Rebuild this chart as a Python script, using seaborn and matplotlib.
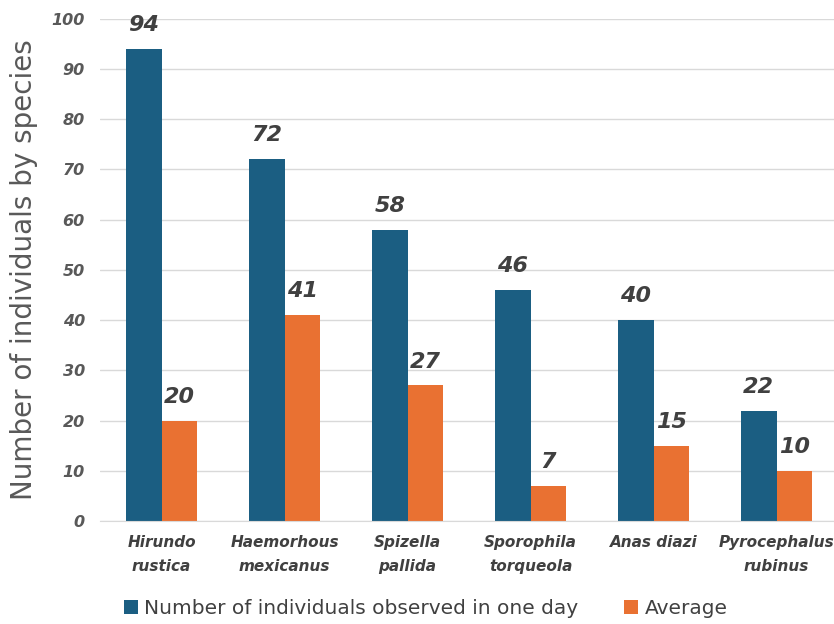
import matplotlib
matplotlib.use("Agg")
import matplotlib.pyplot as plt
import seaborn as sns
import pandas as pd

species = ["Hirundo\nrustica", "Haemorhous\nmexicanus", "Spizella\npallida",
           "Sporophila\ntorqueola", "Anas diazi", "Pyrocephalus\nrubinus"]
observed = [94, 72, 58, 46, 40, 22]
average = [20, 41, 27, 7, 15, 10]
series_names = ["Number of individuals observed in one day", "Average"]
colors = ["#1B5E82", "#E97132"]

df = pd.DataFrame({
    "species": species * 2,
    "value": observed + average,
    "series": [series_names[0]] * len(species) + [series_names[1]] * len(species),
})

sns.set_style("white")
plt.rcParams['font.family'] = ['DejaVu Sans']

fig = plt.figure(figsize=(8.34, 6.24), dpi=100)
ax = fig.add_axes([0.12, 0.165, 0.885, 0.805])

sns.barplot(data=df, x="species", y="value", hue="series", palette=colors,
            width=0.58, gap=0, ax=ax, saturation=1, legend=True, linewidth=0,
            edgecolor="none")

for cont in ax.containers:
    ax.bar_label(cont, fmt="%d", padding=10, fontsize=16, fontweight="bold",
                 fontstyle="italic", color="#404040")

ax.set_ylim(0, 100)
ax.set_xlim(-0.5, 5.5)
ax.set_yticks(range(0, 101, 10))
ax.yaxis.grid(True, color="#D9D9D9", linewidth=1)
ax.set_axisbelow(True)
for s in ["top", "right", "left"]:
    ax.spines[s].set_visible(False)
ax.spines["bottom"].set_color("#D9D9D9")
ax.tick_params(axis="both", length=0)
ax.tick_params(axis="y", pad=11)
ax.tick_params(axis="x", pad=10)
for t in ax.get_yticklabels():
    t.set_fontsize(11.5)
    t.set_fontweight("bold")
    t.set_fontstyle("italic")
    t.set_color("#595959")
for t in ax.get_xticklabels():
    t.set_fontsize(11)
    t.set_fontweight("semibold")
    t.set_fontstyle("italic")
    t.set_color("#404040")
    t.set_linespacing(1.75)
ax.set_xlabel("")
ax.set_ylabel("Number of individuals by species", fontsize=20, color="#595959", labelpad=10)

ax.legend(loc="upper center", bbox_to_anchor=(0.441, -0.119), ncol=2, frameon=False,
          fontsize=14.5, handlelength=0.7, handleheight=0.7, handletextpad=0.3,
          columnspacing=2.3, labelcolor="#404040")

fig.savefig("out.png", dpi=100)
